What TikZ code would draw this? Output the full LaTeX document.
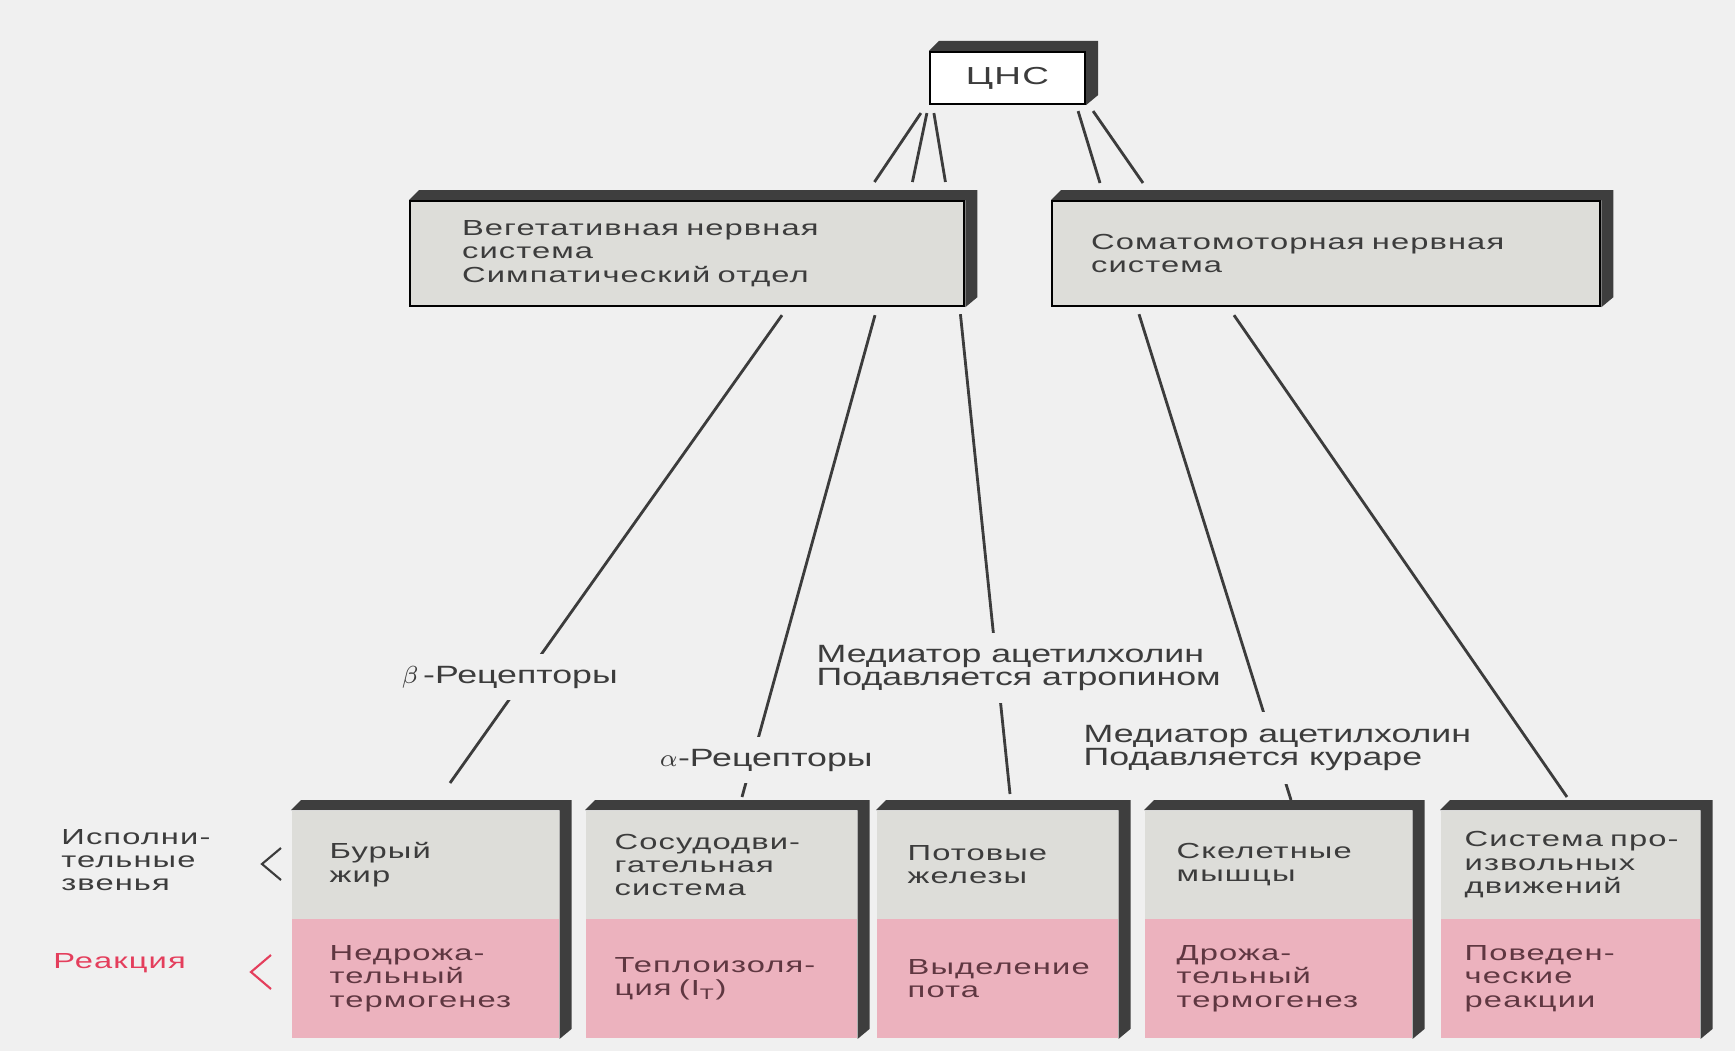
\documentclass[tikz,border=0pt]{standalone}
\usepackage{fontspec}
\setmainfont{Liberation Sans}
\newfontfamily\boxfont{Liberation Sans}[FakeStretch=1.5,LetterSpace=5]
\newfontfamily\lblfont{Liberation Sans}[FakeStretch=1.43]
\usetikzlibrary{calc,backgrounds}

\definecolor{bgcol}{RGB}{240,240,240}
\definecolor{facegray}{RGB}{221,221,217}
\definecolor{facepink}{RGB}{236,178,190}
\definecolor{slabdark}{RGB}{62,62,62}
\definecolor{inkgray}{RGB}{60,60,60}
\definecolor{inkpink}{RGB}{95,55,65}
\definecolor{reactred}{RGB}{228,62,92}

\tikzset{
  boxtext/.style={font=\boxfont\fontsize{6.2}{6.6}\selectfont},
  topbox/.style={boxtext, draw=black, line width=0.6pt, fill=facegray, text=inkgray, align=left, inner ysep=0pt},
  effbox/.style={boxtext, fill=facegray, text=inkgray, align=left, inner ysep=0pt, minimum height=1.08cm, anchor=north west},
  reacbox/.style={boxtext, fill=facepink, text=inkpink, align=left, inner ysep=0pt, minimum height=1.19cm, anchor=north west},
  slab/.style={fill=slabdark},
  nerve/.style={draw=inkgray, line width=0.8pt},
  lbl/.style={fill=bgcol, text=inkgray, align=left, inner xsep=2pt, anchor=west, font=\lblfont\fontsize{7.1}{6.5}\selectfont},
}

\begin{document}
\begin{tikzpicture}[x=0.01cm, y=-0.01cm]
\useasboundingbox (0,0) rectangle (1735,1051);

\node[topbox, fill=white, minimum width=1.55cm, minimum height=0.52cm, font=\boxfont\fontsize{7}{8}\selectfont] (cns) at (1007.5,78) {ЦНС};

\node[topbox, anchor=north west, text width=4.50cm, inner xsep=0.52cm, minimum height=1.05cm] (veg) at (409,200) {Вегетативная нервная\\система\\Симпатический отдел};
\node[topbox, anchor=north west, text width=4.70cm, inner xsep=0.39cm, minimum height=1.05cm] (soma) at (1051,200) {Соматомоторная нервная\\система};

% effectors and reactions
\node[effbox, text width=1.91cm, inner xsep=0.38cm] (eff1) at (291,810) {Бурый\\жир};
\node[reacbox, text width=1.91cm, inner xsep=0.38cm] (reac1) at ([yshift=0.01cm]eff1.south west) {Недрожа-\\тельный\\термогенез};

\node[effbox, text width=2.13cm, inner xsep=0.29cm] (eff2) at (585,810) {Сосудодви-\\гательная\\система};
\node[reacbox, text width=2.13cm, inner xsep=0.29cm] (reac2) at ([yshift=0.01cm]eff2.south west) {Теплоизоля-\\ция (I\textsubscript{T})};

\node[effbox, text width=1.79cm, inner xsep=0.31cm] (eff3) at (876,810) {Потовые\\железы};
\node[reacbox, text width=1.79cm, inner xsep=0.31cm] (reac3) at ([yshift=0.01cm]eff3.south west) {Выделение\\пота};

\node[effbox, text width=2.03cm, inner xsep=0.32cm] (eff4) at (1144,810) {Скелетные\\мышцы};
\node[reacbox, text width=2.03cm, inner xsep=0.32cm] (reac4) at ([yshift=0.01cm]eff4.south west) {Дрожа-\\тельный\\термогенез};

\node[effbox, text width=2.11cm, inner xsep=0.24cm] (eff5) at (1440,810) {\mbox{Система про-}\\извольных\\движений};
\node[reacbox, text width=2.11cm, inner xsep=0.24cm] (reac5) at ([yshift=0.01cm]eff5.south west) {Поведен-\\ческие\\реакции};

\begin{scope}[on background layer]
\fill[bgcol] (0,0) rectangle (1735,1051);
\foreach \t/\b in {cns/cns,veg/veg,soma/soma,eff1/reac1,eff2/reac2,eff3/reac3,eff4/reac4,eff5/reac5}
  \fill[slab] (\t.north west) -- ($(\t.north west)+(10,-10)$) -- ($(\t.north east)+(12,-10)$)
    -- ($(\b.south east)+(12,-10)$) -- (\b.south east) -- (\t.north east) -- cycle;
\end{scope}

% CNS to the two systems
\draw[nerve] ($(cns.south west)+(-8,8)$) -- ($(veg.north east)+(-91,-18)$);
\draw[nerve] ($(cns.south west)+(-2,8)$) -- ($(veg.north east)+(-53,-18)$);
\draw[nerve] ($(cns.south west)+(5,8)$) -- ($(veg.north east)+(-20,-18)$);
\draw[nerve] ($(cns.south east)+(-8,6)$) -- ($(soma.north west)+(49,-17)$);
\draw[nerve] ($(cns.south east)+(7,6)$) -- ($(soma.north west)+(92,-17)$);

% systems to effectors
\draw[nerve] ($(veg.south west)+(373,8)$) -- ($(eff1.north west)+(159,-27)$);
\draw[nerve] ($(veg.south west)+(466,8)$) -- ($(eff2.north west)+(157,-13)$);
\draw[nerve] ($(veg.south east)+(-5,7)$) -- ($(eff3.north west)+(134,-16)$);
\draw[nerve] ($(soma.south west)+(88,7)$) -- ($(eff4.north west)+(147,-10)$);
\draw[nerve] ($(soma.south west)+(183,8)$) -- ($(eff5.north west)+(127,-13)$);

% receptor labels (cut the lines)
\node[lbl, minimum height=0.45cm] (beta) at (394,677) {$\beta$\,-Рецепторы};
\node[lbl, minimum height=0.44cm] (alpha) at (652,760) {$\alpha$-Рецепторы};
\node[lbl, minimum height=0.69cm] (atropine) at (809,668) {Медиатор ацетилхолин\\Подавляется атропином};
\node[lbl, minimum height=0.72cm] (curare) at (1076,748) {Медиатор ацетилхолин\\Подавляется кураре};

% row captions
\node[boxtext, anchor=west, text=inkgray, align=left] (effrow) at (49,860) {Исполни-\\тельные\\звенья};
\node[boxtext, anchor=west, text=reactred] (reacrow) at (41,963) {Реакция};
\draw[inkgray, line width=0.6pt] (281,848) -- (262,864) -- (281,880);
\draw[reactred, line width=0.6pt] (271,955) -- (251,972) -- (271,989);
\end{tikzpicture}
\end{document}
